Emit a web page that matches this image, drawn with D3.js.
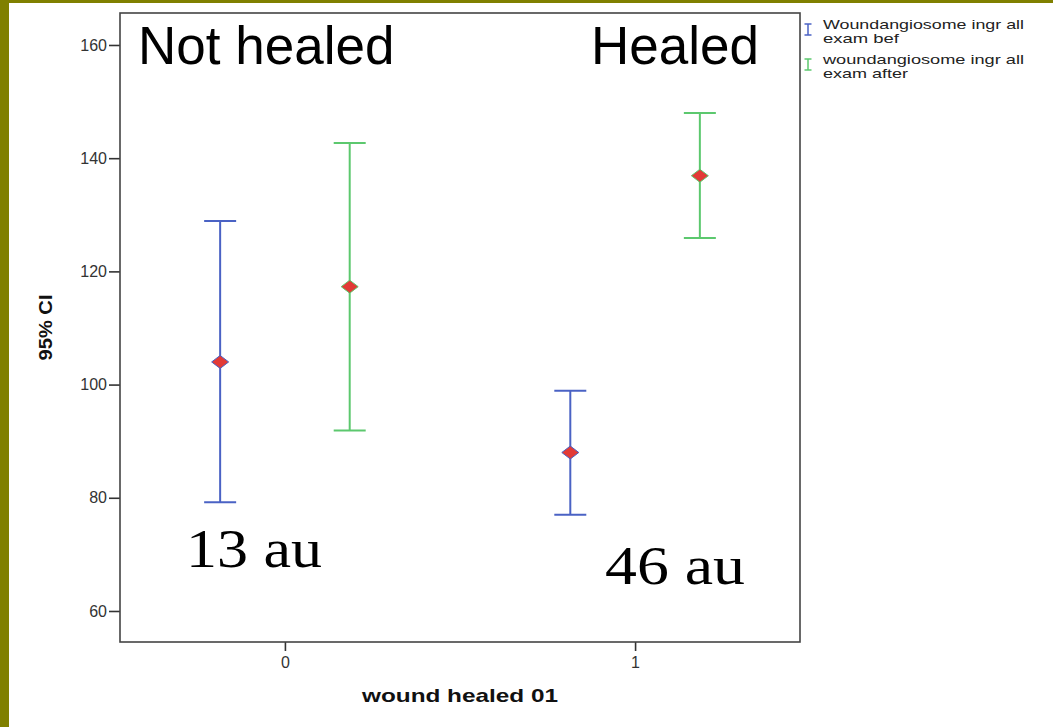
<!DOCTYPE html>
<html>
<head>
<meta charset="utf-8">
<script src="https://cdn.jsdelivr.net/npm/d3@7"></script>
<style>
  html, body { margin: 0; padding: 0; background: #fff; }
  svg { display: block; }
  text { font-family: "Liberation Sans", Arial, sans-serif; }
</style>
</head>
<body>
<svg id="chart" width="1053" height="727"></svg>
<script>
// Groups on the x axis (wound healed 0 / 1)
const groups = [0, 1];

// 95% CI for "exam bef"
const befMean = [104.0, 88.0];
const befLow  = [79.2, 77.0];
const befHigh = [128.9, 98.9];

// 95% CI for "exam after"
const aftMean = [117.3, 136.9];
const aftLow  = [91.9, 125.9];
const aftHigh = [142.7, 148.0];

const yTicks = [60, 80, 100, 120, 140, 160];
const xTicks = [0, 1];

const legendBef = ["Woundangiosome ingr all", "exam bef"];
const legendAft = ["woundangiosome ingr all", "exam after"];

const groupLabels = ["Not healed", "Healed"];
const countLabels = ["13 au", "46 au"];

const svg = d3.select("#chart");
const W = 1053, H = 727;

// slide frame
svg.append("rect").attr("x", 0).attr("y", 0).attr("width", W).attr("height", H).attr("fill", "#fff");
svg.append("rect").attr("x", 0).attr("y", 0).attr("width", W).attr("height", 3).attr("fill", "#808000");
svg.append("rect").attr("x", 0).attr("y", 0).attr("width", 9).attr("height", H).attr("fill", "#808000");

const plot = { left: 120, right: 800, top: 13, bottom: 642 };

const x = d3.scaleLinear().domain([-0.471, 1.471]).range([plot.left, plot.right]);
const y = d3.scaleLinear().domain([54.52, 165.65]).range([plot.bottom, plot.top]);

const BLUE = "#4a62c4";
const GREEN = "#5cc86e";
const RED = "#e23a36";
const offset = 0.185;

// axes
const yAxis = d3.axisLeft(y).tickValues(yTicks).tickSize(11).tickPadding(2);
const gy = svg.append("g").attr("transform", `translate(${plot.left},0)`).call(yAxis);
const xAxis = d3.axisBottom(x).tickValues(xTicks).tickFormat(d3.format("d")).tickSize(9).tickPadding(6);
const gx = svg.append("g").attr("transform", `translate(0,${plot.bottom})`).call(xAxis);
[gy, gx].forEach(g => {
  g.select(".domain").remove();
  g.selectAll(".tick line").attr("stroke", "#333").attr("stroke-width", 1.6);
  g.selectAll(".tick text").attr("fill", "#333").style("font-size", "16px")
    .style("font-family", "'Liberation Sans', Arial, sans-serif");
});

// plot frame
svg.append("rect")
  .attr("x", plot.left).attr("y", plot.top)
  .attr("width", plot.right - plot.left).attr("height", plot.bottom - plot.top)
  .attr("fill", "none").attr("stroke", "#444").attr("stroke-width", 1.6);

// axis titles
svg.append("text")
  .attr("transform", `translate(52,${(plot.top + plot.bottom) / 2}) rotate(-90)`)
  .attr("text-anchor", "middle")
  .attr("font-weight", "bold").attr("font-size", 18).attr("fill", "#111")
  .attr("textLength", 66).attr("lengthAdjust", "spacingAndGlyphs")
  .text("95% CI");

svg.append("text")
  .attr("x", (plot.left + plot.right) / 2).attr("y", 702)
  .attr("text-anchor", "middle")
  .attr("font-weight", "bold").attr("font-size", 19).attr("fill", "#111")
  .attr("textLength", 196).attr("lengthAdjust", "spacingAndGlyphs")
  .text("wound healed 01");

// error bars
function drawSeries(mean, low, high, dx, color) {
  const g = svg.append("g");
  const capHalf = 16;
  groups.forEach((grp, i) => {
    const cx = x(grp + dx);
    g.append("line").attr("x1", cx).attr("x2", cx).attr("y1", y(low[i])).attr("y2", y(high[i]))
      .attr("stroke", color).attr("stroke-width", 2);
    [low[i], high[i]].forEach(v => {
      g.append("line").attr("x1", cx - capHalf).attr("x2", cx + capHalf)
        .attr("y1", y(v)).attr("y2", y(v))
        .attr("stroke", color).attr("stroke-width", 2);
    });
    const cy = y(mean[i]);
    const hw = 8.5, hh = 6.5;
    g.append("path")
      .attr("d", `M${cx - hw},${cy} L${cx},${cy - hh} L${cx + hw},${cy} L${cx},${cy + hh} Z`)
      .attr("fill", RED).attr("stroke", color).attr("stroke-width", 1);
  });
}
drawSeries(befMean, befLow, befHigh, -offset, BLUE);
drawSeries(aftMean, aftLow, aftHigh, offset, GREEN);

// legend
function legendItem(lines, color, top, widths) {
  const mx = 808;
  const g = svg.append("g");
  g.append("line").attr("x1", mx).attr("x2", mx).attr("y1", top).attr("y2", top + 11)
    .attr("stroke", color).attr("stroke-width", 1.5);
  [top, top + 11].forEach(yy => g.append("line").attr("x1", mx - 3.5).attr("x2", mx + 3.5)
    .attr("y1", yy).attr("y2", yy).attr("stroke", color).attr("stroke-width", 1.5));
  lines.forEach((t, k) => {
    g.append("text").attr("x", 823).attr("y", top + 5 + k * 14)
      .attr("font-size", 13.5).attr("fill", "#222")
      .attr("textLength", widths[k]).attr("lengthAdjust", "spacingAndGlyphs")
      .text(t);
  });
}
legendItem(legendBef, BLUE, 24, [201, 76]);
legendItem(legendAft, GREEN, 59, [201, 85]);

// group captions
svg.append("text").attr("x", 138).attr("y", 64).attr("font-size", 53).attr("fill", "#000")
  .text(groupLabels[0]);
svg.append("text").attr("x", 591).attr("y", 64).attr("font-size", 53).attr("fill", "#000")
  .text(groupLabels[1]);

svg.append("text").attr("x", 186).attr("y", 567).attr("font-size", 54).attr("fill", "#000")
  .style("font-family", "'Liberation Serif', 'Times New Roman', serif")
  .attr("textLength", 136).attr("lengthAdjust", "spacingAndGlyphs")
  .text(countLabels[0]);
svg.append("text").attr("x", 605).attr("y", 584).attr("font-size", 54).attr("fill", "#000")
  .style("font-family", "'Liberation Serif', 'Times New Roman', serif")
  .attr("textLength", 140).attr("lengthAdjust", "spacingAndGlyphs")
  .text(countLabels[1]);
</script>
</body>
</html>
